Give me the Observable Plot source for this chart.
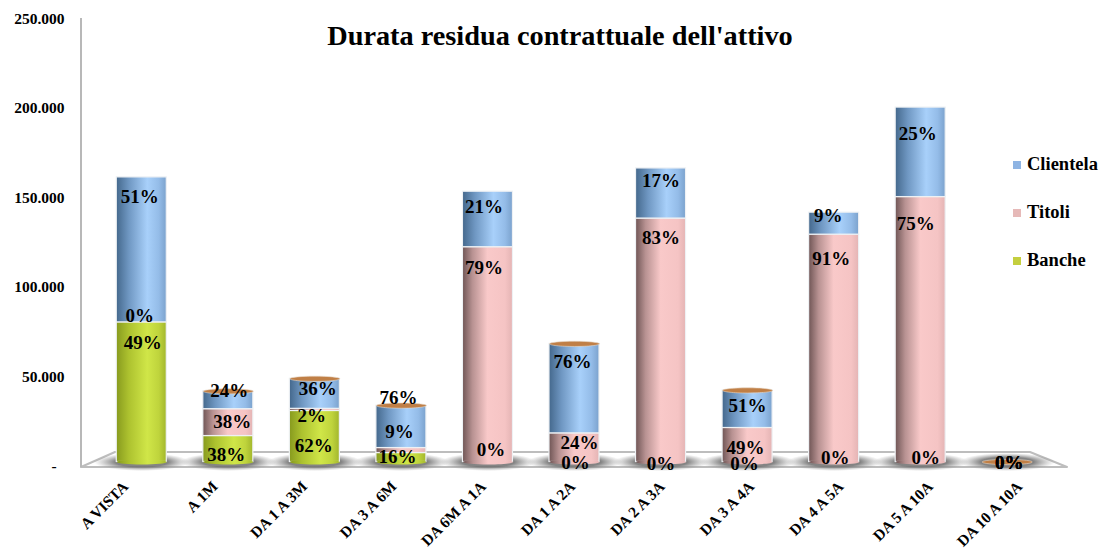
<!DOCTYPE html>
<html>
<head>
<meta charset="utf-8">
<script src="https://cdn.jsdelivr.net/npm/d3@7"></script>
<script src="https://cdn.jsdelivr.net/npm/@observablehq/plot@0.6"></script>
<style>
  html, body { margin: 0; padding: 0; background: #fff; }
  #chart { position: relative; width: 1115px; height: 549px; font-family: "Liberation Serif", serif; font-weight: bold; color: #000; overflow: hidden; }
  #title { position: absolute; left: 0; width: 1120px; top: 19px; text-align: center; font-size: 28.3px; line-height: 34px; }
  .lg { position: absolute; left: 1013px; font-size: 18.5px; line-height: 20px; white-space: nowrap; }
  .lg i { display: inline-block; width: 8px; height: 8px; margin-right: 6px; vertical-align: 1px; }
</style>
</head>
<body>
<div id="chart">
  <div id="title">Durata residua contrattuale dell'attivo</div>
</div>
<script>
const categories = ["A VISTA","A 1M","DA 1 A 3M","DA 3 A 6M","DA 6M A 1A","DA 1 A 2A","DA 2 A 3A","DA 3 A 4A","DA 4 A 5A","DA 5 A 10A","DA 10 A 10A"];
const seriesNames = ["Banche","Titoli","Clientela"];
const banche    = [78000, 14500, 28500, 5000, 0, 0, 0, 0, 0, 0, 0];
const titoli    = [0, 15000, 1200, 2800, 120000, 16000, 136000, 19000, 127000, 148000, 0];
const clientela = [81000, 10000, 16800, 23700, 31000, 50000, 28000, 21000, 12300, 50000, 0];
const pctBanche    = ["49%","38%","62%","16%","0%","0%","0%","0%","0%","0%","0%"];
const pctTitoli    = ["0%","38%","2%","9%","79%","24%","83%","49%","91%","75%","0%"];
const pctClientela = ["51%","24%","36%","76%","21%","76%","17%","51%","9%","25%","0%"];
const yTicks = [0, 50000, 100000, 150000, 200000, 250000];

// Layout only: where each percentage sits relative to the top of its segment (dx, dy in px).
const offBanche    = [[1,21],[-2,18.5],[-1,34.5],[-4,3.5],[3,-12.5],[1,0.5],[0,1.5],[-3,1.5],[1,-4.5],[5,-4.5],[2,0.5]];
const offTitoli    = [[-2,-6],[4,13],[-3,7],[-2,-16.5],[-4,21],[5,10],[0,19],[-2,19.5],[-3,24],[-5,27],[2,0.5]];
const offClientela = [[-2,20],[1,0],[3,10],[-3,-8],[-4,15],[-2,18],[0,12],[0,16],[-6,3],[-3,26],[2,0.5]];

const valuesBy = {Banche: banche, Titoli: titoli, Clientela: clientela};
const pctBy = {Banche: pctBanche, Titoli: pctTitoli, Clientela: pctClientela};
const offBy = {Banche: offBanche, Titoli: offTitoli, Clientela: offClientela};

const rows = [];
categories.forEach((cat, i) => {
  let top = 0;
  seriesNames.forEach(s => {
    const value = valuesBy[s][i];
    top += value;
    rows.push({cat, series: s, value, top, pct: pctBy[s][i], off: offBy[s][i]});
  });
});
const totals = categories.map((cat, i) => ({cat, total: banche[i] + titoli[i] + clientela[i]}));

const ellipse = (rx, ry) => ({
  draw(c) {
    const k = 0.5523;
    c.moveTo(-rx, 0);
    c.bezierCurveTo(-rx, -k*ry, -k*rx, -ry, 0, -ry);
    c.bezierCurveTo(k*rx, -ry, rx, -k*ry, rx, 0);
    c.bezierCurveTo(rx, k*ry, k*rx, ry, 0, ry);
    c.bezierCurveTo(-k*rx, ry, -rx, k*ry, -rx, 0);
    c.closePath();
  }
});

// Floor and back edge of the 3D frame (decoration)
const frame3d = () => {
  const g = d3.create("svg:g");
  g.append("path").attr("d", "M81,467 L1067,467 L1030,452 L115,452 Z")
    .attr("fill", "#fff").attr("stroke", "#bdbdbd").attr("stroke-width", 2).attr("stroke-linejoin", "round");
  g.append("path").attr("d", "M81,18 L81,467").attr("stroke", "#b8b8b8").attr("stroke-width", 2).attr("fill", "none");
  return g.node();
};

const firstByCat = new Map();
rows.forEach(r => { if (r.value > 0 && !firstByCat.has(r.cat)) firstByCat.set(r.cat, r.series); });

const colorRange = ["url(#gBanche)", "url(#gTitoli)", "url(#gClientela)"];

const labelMarks = rows.map(r => Plot.text([r], {
  x: "cat", y: "top", text: "pct",
  dx: r.off[0], dy: r.off[1],
  fontSize: 19, fontWeight: "bold", fontFamily: "Liberation Serif", fill: "#000"
}));

// The reference's rotated category labels fan out slightly wider than its bars.
const xAxisMarks = categories.map((c, i) => Plot.axisX({
  ticks: [c], tickRotate: -45, tickSize: 0, tickPadding: 18,
  dx: -16 + i * 2.85, dy: 4, fontSize: 15.5, fontWeight: "bold",
  label: null, fill: "#000"
}));

const plot = Plot.plot({
  width: 1115, height: 549,
  marginLeft: 98, marginRight: 65, marginTop: 14, marginBottom: 87.5,
  style: {background: "transparent", fontFamily: "Liberation Serif"},
  x: {domain: categories, paddingInner: 0.422, paddingOuter: 0.211, align: 0.5, round: false, label: null},
  y: {domain: [0, 250000], label: null},
  color: {domain: seriesNames, range: colorRange},
  marks: [
    frame3d,
    Plot.dot(totals, {x: "cat", y: () => 0, symbol: ellipse(48, 9), fill: "url(#gShadow)", stroke: "none"}),
    Plot.barY(rows.filter(r => r.value > 0), {
      x: "cat", y: "value", fill: "series", order: seriesNames,
      stroke: "#eef1f4", strokeWidth: 1.2
    }),
    Plot.dot(rows.filter(r => r.value > 0 && firstByCat.get(r.cat) === r.series), {
      x: "cat", y: () => 0, symbol: ellipse(25, 2.5), fill: "series", stroke: "none"
    }),
    Plot.dot(totals, {
      x: "cat", y: "total", symbol: ellipse(25, 2.6), fill: "#c07f46", stroke: "#e8d8c8", strokeWidth: 0.6,
      filter: d => d.total < 100000
    }),
    Plot.axisY({
      ticks: yTicks, tickSize: 0, tickPadding: 34, dy: 4.5, fontSize: 15.5, fontWeight: "bold",
      tickFormat: d => d === 0 ? "-\u00a0\u00a0" : d3.format(",")(d).replace(/,/g, "."),
      label: null, fill: "#000"
    }),
    ...xAxisMarks,
    ...labelMarks
  ]
});

// Cylinder-like horizontal gradients, referenced by the colour scale
const defs = d3.select(plot).insert("svg:defs", ":first-child");
const grad = (id, stops) => {
  const g = defs.append("linearGradient").attr("id", id).attr("x1", 0).attr("x2", 1).attr("y1", 0).attr("y2", 0);
  stops.forEach(([o, c]) => g.append("stop").attr("offset", o).attr("stop-color", c));
};
grad("gClientela", [[0,"#44688c"],[0.25,"#6f97c2"],[0.62,"#a8d0fa"],[0.85,"#94bce8"],[1,"#7ba2cd"]]);
grad("gTitoli", [[0,"#6f5555"],[0.2,"#b89292"],[0.5,"#f9c9c9"],[0.85,"#f5c4c4"],[1,"#e4b4b4"]]);
grad("gBanche", [[0,"#879a1e"],[0.25,"#adc22f"],[0.62,"#d0e648"],[0.85,"#bfd43c"],[1,"#a2b62c"]]);
const shadow = defs.append("radialGradient").attr("id", "gShadow");
shadow.append("stop").attr("offset", 0.55).attr("stop-color", "#6e6e6e").attr("stop-opacity", 0.85);
shadow.append("stop").attr("offset", 1).attr("stop-color", "#9a9a9a").attr("stop-opacity", 0);

const chart = document.getElementById("chart");
chart.insertBefore(plot, chart.firstChild);

const legendItems = [["Clientela", "#8eb4e3", 154], ["Titoli", "#e6b9b8", 202], ["Banche", "#c4cf3f", 250]];
legendItems.forEach(([name, color, top]) => {
  const d = document.createElement("div");
  d.className = "lg";
  d.style.top = top + "px";
  const i = document.createElement("i");
  i.style.background = color;
  d.appendChild(i);
  d.appendChild(document.createTextNode(name));
  chart.appendChild(d);
});
</script>
</body>
</html>
